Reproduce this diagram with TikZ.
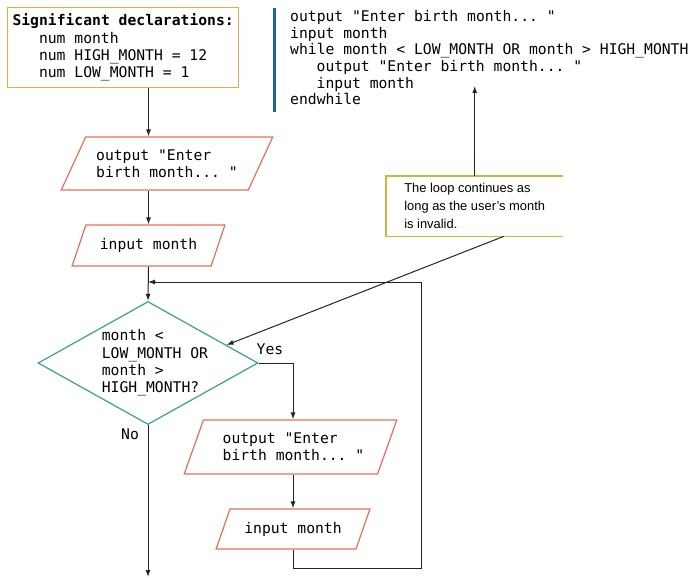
\documentclass[tikz,border=0pt]{standalone}
\usepackage{fontspec}
\setmonofont{DejaVu Sans Mono}
\newfontfamily\notefont{Liberation Sans}
\usepackage{tikz}
\usetikzlibrary{shapes.geometric}
\usetikzlibrary{arrows.meta}
\usetikzlibrary{calc,positioning}
\definecolor{declorange}{RGB}{242,169,59}
\definecolor{ioline}{RGB}{233,110,88}
\definecolor{decteal}{RGB}{62,158,148}
\definecolor{noteolive}{RGB}{196,186,64}
\definecolor{barblue}{RGB}{28,104,150}
\definecolor{wire}{RGB}{35,35,35}
\tikzset{>={Latex[length=7pt,width=5pt]}}
\tikzset{
  code/.style={font=\ttfamily\fontsize{14.7}{17.3}\selectfont, align=left, inner sep=0pt},
  declbox/.style={code, draw=declorange, line width=1.3pt},
  io/.style={code, draw=ioline, line width=1.2pt, trapezium, trapezium left angle=53,
    trapezium right angle=127, trapezium stretches=true},
  decision/.style={draw=decteal, line width=1.2pt, diamond, minimum width=220pt,
    minimum height=123pt, inner sep=0pt},
  note/.style={font=\notefont\fontsize{12.9}{18}\selectfont, align=left, inner sep=0pt},
  flow/.style={wire, line width=1pt, ->},
}
\newcommand{\codeind}{\hspace*{26.5pt}}

\begin{document}
\begin{tikzpicture}[x=1pt,y=-1pt]
\useasboundingbox (0,0) rectangle (694,578);

% Declarations
\node[declbox, minimum width=231pt, minimum height=80pt, anchor=north west] (decl) at (7,7)
  {\textbf{Significant declarations:}\\\codeind num month\\\codeind num HIGH\_MONTH = 12\\\codeind num LOW\_MONTH = 1};

% Pseudocode
\draw[barblue, line width=3pt] (274,8) -- (274,112);
\node[code, anchor=north west, font=\ttfamily\fontsize{14.7}{16.7}\selectfont] (pseudo) at (290,10)
  {output "Enter birth month... "\\input month\\while month < LOW\_MONTH OR month > HIGH\_MONTH\\\codeind output "Enter birth month... "\\\codeind input month\\endwhile};

% Comment
\node[note, minimum width=177pt, minimum height=60pt, anchor=north west] (remark) at (386,176)
  {The loop continues as\\long as the user’s month\\is invalid.};
\draw[noteolive, line width=1.3pt] (remark.north east) -- (remark.north west) -- (remark.south west) -- (remark.south east);
\coordinate (codept) at ($(remark.north)+(0,-90)$);

% Flowchart
\node[io, minimum width=212pt, minimum height=53pt] (out1) at (167,163.5) {output "Enter\\birth month... "};
\node[io, minimum width=153pt, minimum height=41pt] (in1) at (148.5,245.5) {input month};
\node[decision] (dec) at (148,363) {};
\node[code] (decq) at ([xshift=7pt]dec.center) {month <\\LOW\_MONTH OR\\month >\\HIGH\_MONTH?};
\node[io, minimum width=213pt, minimum height=54pt, trapezium left angle=60, trapezium right angle=120] (out2) at (290.5,447) {\hspace*{6pt}output "Enter\\\hspace*{6pt}birth month... "};
\node[io, minimum width=154pt, minimum height=40pt] (in2) at (293,529) {input month};

\coordinate (join) at (148,282);
\coordinate (loopc) at (421,568);
\coordinate (exitpt) at (148,577);

% Connectors
\draw[flow] (decl.south -| in1.north) -- (in1.north |- out1.north);
\draw[flow] (out1.south -| in1.north) -- (in1.north);
\draw[flow] (in1.south) -- (dec.north);
\draw[flow] (dec.east) -| (out2.north -| in2.north);
\draw[flow] (out2.south -| in2.north) -- (in2.north);
\draw[flow] (in2.south) |- (loopc) |- (join);
\draw[flow] (dec.south) -- (exitpt);
\draw[flow] (remark.north) -- (codept);
\draw[flow] ([xshift=29pt]remark.south) -- ($(dec.north)!0.71!(dec.east)$);

% Labels
\node[code] (yes) at (270,349) {Yes};
\node[code] (no) at (130,434) {No};

\end{tikzpicture}
\end{document}
